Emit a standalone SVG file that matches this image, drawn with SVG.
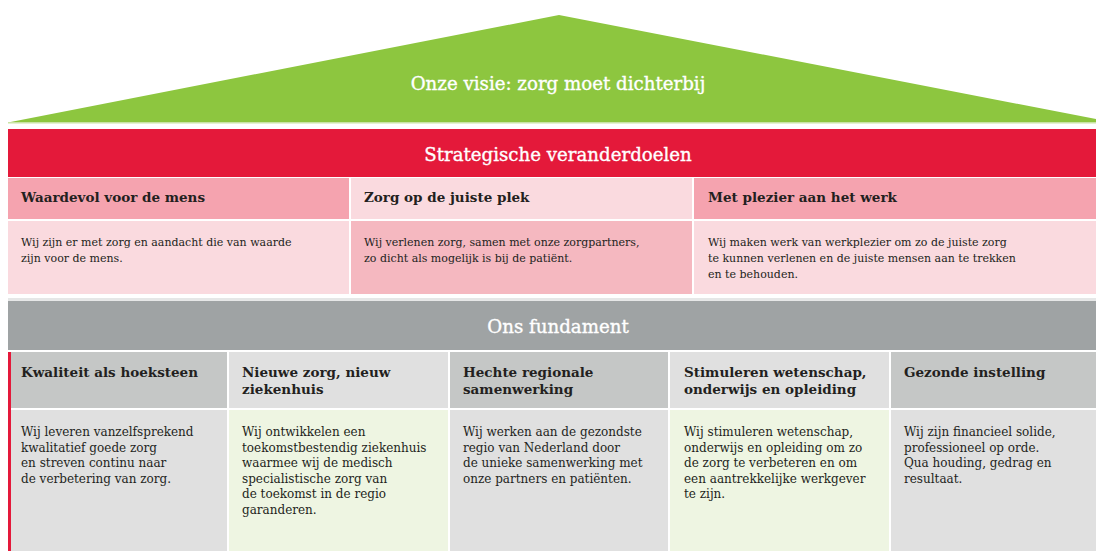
<svg xmlns="http://www.w3.org/2000/svg" width="1096" height="551" viewBox="0 0 1096 551">
<style>
text{font-family:"DejaVu Serif","Liberation Serif",serif;fill:#231f20}
.ttl{font-size:18.2px;fill:#ffffff;stroke:#ffffff;stroke-width:0.35px;text-anchor:middle}
.hd{font-size:13.5px;font-weight:bold}
.bd{font-size:11px}
.fb{font-size:12px}
</style>
<rect width="1096" height="551" fill="#ffffff"/>
<g id="visie">
<polygon points="8,122.5 559,15 1096,119 1096,122.5" fill="#8dc63f"/>
<rect x="8" y="122" width="1088" height="1.5" fill="#c9e3a6"/>
<text class="ttl" x="558" y="89.5">Onze visie: zorg moet dichterbij</text>
</g>
<g id="strategisch">
<rect x="8" y="129" width="1088" height="48" fill="#e4193a"/>
<text class="ttl" x="558" y="161">Strategische veranderdoelen</text>
</g>
<g id="doel-waardevol">
<rect x="8" y="178" width="341" height="41" fill="#f5a3af"/>
<rect x="8" y="221" width="341" height="73" fill="#fadadf"/>
<text class="hd" x="21" y="202">Waardevol voor de mens</text>
<text class="bd" x="21" y="246">Wij zijn er met zorg en aandacht die van waarde</text>
<text class="bd" x="21" y="262">zijn voor de mens.</text>
</g>
<g id="doel-plek">
<rect x="351" y="178" width="341" height="41" fill="#fadadf"/>
<rect x="351" y="221" width="341" height="73" fill="#f5b8c0"/>
<text class="hd" x="364" y="202">Zorg op de juiste plek</text>
<text class="bd" x="364" y="246">Wij verlenen zorg, samen met onze zorgpartners,</text>
<text class="bd" x="364" y="262">zo dicht als mogelijk is bij de patiënt.</text>
</g>
<g id="doel-plezier">
<rect x="694" y="178" width="402" height="41" fill="#f5a3af"/>
<rect x="694" y="221" width="402" height="73" fill="#fadadf"/>
<text class="hd" x="708" y="202">Met plezier aan het werk</text>
<text class="bd" x="708" y="246">Wij maken werk van werkplezier om zo de juiste zorg</text>
<text class="bd" x="708" y="262">te kunnen verlenen en de juiste mensen aan te trekken</text>
<text class="bd" x="708" y="278">en te behouden.</text>
</g>
<g id="fundament">
<rect x="8" y="298" width="1088" height="3" fill="#e6e7e7"/>
<rect x="8" y="301" width="1088" height="49" fill="#9fa3a4"/>
<text class="ttl" x="558" y="333">Ons fundament</text>
</g>
<g id="pijler-kwaliteit">
<rect x="8" y="352" width="219" height="56" fill="#c5c7c6"/>
<rect x="8" y="410" width="219" height="141" fill="#e0e0e0"/>
<rect x="8" y="352" width="3" height="199" fill="#e4193a"/>
<text class="hd" x="21" y="377">Kwaliteit als hoeksteen</text>
<text class="fb" x="21" y="436">Wij leveren vanzelfsprekend</text>
<text class="fb" x="21" y="451.5">kwalitatief goede zorg</text>
<text class="fb" x="21" y="467">en streven continu naar</text>
<text class="fb" x="21" y="482.5">de verbetering van zorg.</text>
</g>
<g id="pijler-nieuw">
<rect x="229" y="352" width="219" height="56" fill="#e0e0e0"/>
<rect x="229" y="410" width="219" height="141" fill="#eef5e2"/>
<text class="hd" x="242" y="377">Nieuwe zorg, nieuw</text>
<text class="hd" x="242" y="394">ziekenhuis</text>
<text class="fb" x="242" y="436">Wij ontwikkelen een</text>
<text class="fb" x="242" y="451.5">toekomstbestendig ziekenhuis</text>
<text class="fb" x="242" y="467">waarmee wij de medisch</text>
<text class="fb" x="242" y="482.5">specialistische zorg van</text>
<text class="fb" x="242" y="498">de toekomst in de regio</text>
<text class="fb" x="242" y="513.5">garanderen.</text>
</g>
<g id="pijler-regionaal">
<rect x="450" y="352" width="218" height="56" fill="#c5c7c6"/>
<rect x="450" y="410" width="218" height="141" fill="#e0e0e0"/>
<text class="hd" x="463" y="377">Hechte regionale</text>
<text class="hd" x="463" y="394">samenwerking</text>
<text class="fb" x="463" y="436">Wij werken aan de gezondste</text>
<text class="fb" x="463" y="451.5">regio van Nederland door</text>
<text class="fb" x="463" y="467">de unieke samenwerking met</text>
<text class="fb" x="463" y="482.5">onze partners en patiënten.</text>
</g>
<g id="pijler-wetenschap">
<rect x="670" y="352" width="219" height="56" fill="#e0e0e0"/>
<rect x="670" y="410" width="219" height="141" fill="#eef5e2"/>
<text class="hd" x="684" y="377">Stimuleren wetenschap,</text>
<text class="hd" x="684" y="394">onderwijs en opleiding</text>
<text class="fb" x="684" y="436">Wij stimuleren wetenschap,</text>
<text class="fb" x="684" y="451.5">onderwijs en opleiding om zo</text>
<text class="fb" x="684" y="467">de zorg te verbeteren en om</text>
<text class="fb" x="684" y="482.5">een aantrekkelijke werkgever</text>
<text class="fb" x="684" y="498">te zijn.</text>
</g>
<g id="pijler-gezond">
<rect x="891" y="352" width="205" height="56" fill="#c5c7c6"/>
<rect x="891" y="410" width="205" height="141" fill="#e0e0e0"/>
<text class="hd" x="904" y="377">Gezonde instelling</text>
<text class="fb" x="904" y="436">Wij zijn financieel solide,</text>
<text class="fb" x="904" y="451.5">professioneel op orde.</text>
<text class="fb" x="904" y="467">Qua houding, gedrag en</text>
<text class="fb" x="904" y="482.5">resultaat.</text>
</g>
<g id="connectors"/>
</svg>
